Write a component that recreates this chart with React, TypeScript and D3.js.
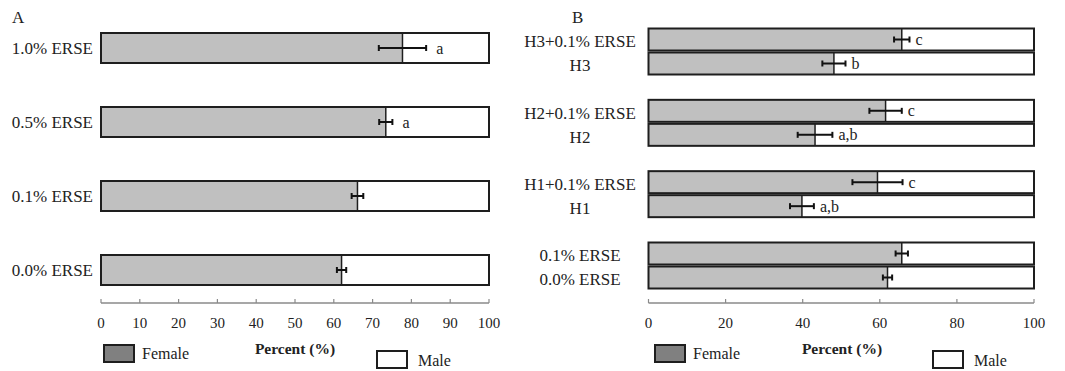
import React from 'react';
import * as d3 from 'd3';

// Panel A: concentrations of ERSE alone
const catsA = ['1.0% ERSE', '0.5% ERSE', '0.1% ERSE', '0.0% ERSE'];
const femaleA = [77.7, 73.4, 66.1, 62.0];
const errA = [6.1, 1.7, 1.5, 1.2];
const lettersA = ['a', 'a', '', ''];

// Panel B: pairs of bars
const groupsB = ['H3', 'H2', 'H1', 'C'];
const catsB = ['H3+0.1% ERSE', 'H3', 'H2+0.1% ERSE', 'H2', 'H1+0.1% ERSE', 'H1', '0.1% ERSE', '0.0% ERSE'];
const femaleB = [65.7, 48.1, 61.5, 43.2, 59.4, 39.8, 65.7, 62.0];
const errB = [2.0, 3.0, 4.2, 4.5, 6.5, 3.1, 1.6, 1.2];
const lettersB = ['c', 'b', 'c', 'a,b', 'c', 'a,b', '', ''];

const ticksA = [0, 10, 20, 30, 40, 50, 60, 70, 80, 90, 100];
const ticksB = [0, 20, 40, 60, 80, 100];

const FONT = '"Liberation Serif", "Times New Roman", serif';
const FEMALE_FILL = '#c0c0c0';
const LEGEND_FILL = '#808080';
const STROKE = '#1e1e1e';

const axisY = 303;

function Axis({ x, ticks }: { x: d3.ScaleLinear<number, number>; ticks: number[] }) {
  const [r0, r1] = x.range();
  return (
    <g>
      <line x1={r0} x2={r1} y1={axisY} y2={axisY} stroke="#8a8a8a" strokeWidth={1.5} />
      {ticks.map((t) => (
        <g key={t}>
          <line x1={x(t)} x2={x(t)} y1={axisY} y2={axisY - 4} stroke="#8a8a8a" strokeWidth={1.2} />
          <text x={x(t)} y={328} textAnchor="middle" fontSize={15} fill="#222">{t}</text>
        </g>
      ))}
    </g>
  );
}

function Bar({ x, y, h, v, e, letter, gap }: any) {
  const x0 = x(0), x1 = x(100), xv = x(v);
  const cy = y + h / 2;
  return (
    <g>
      <rect x={x0} y={y} width={xv - x0} height={h} fill={FEMALE_FILL} />
      <rect x={xv} y={y} width={x1 - xv} height={h} fill="#fff" />
      <rect x={x0} y={y} width={x1 - x0} height={h} fill="none" stroke={STROKE} strokeWidth={2} />
      <line x1={xv} x2={xv} y1={y} y2={y + h} stroke={STROKE} strokeWidth={1.5} />
      <line x1={x(v - e)} x2={x(v + e)} y1={cy} y2={cy} stroke="#111" strokeWidth={2} />
      <line x1={x(v - e)} x2={x(v - e)} y1={cy - 3} y2={cy + 3} stroke="#111" strokeWidth={2} />
      <line x1={x(v + e)} x2={x(v + e)} y1={cy - 3} y2={cy + 3} stroke="#111" strokeWidth={2} />
      {letter && (
        <text x={x(v + e) + gap} y={cy} dy="0.35em" fontSize={16} fill="#222">{letter}</text>
      )}
    </g>
  );
}

function Legend({ boxF, boxM, center }: any) {
  return (
    <g fontSize={16} fill="#222">
      <rect x={boxF} y={345} width={30} height={17} fill={LEGEND_FILL} stroke={STROKE} strokeWidth={2} />
      <text x={boxF + 38} y={359}>Female</text>
      <text x={center} y={354} textAnchor="middle" fontWeight="bold" fontSize={15.5}>Percent (%)</text>
      <rect x={boxM} y={351} width={30} height={17} fill="#fff" stroke={STROKE} strokeWidth={2} />
      <text x={boxM + 41} y={366}>Male</text>
    </g>
  );
}

export default function App() {
  const xA = d3.scaleLinear().domain([0, 100]).range([101, 489]);
  const yA = d3.scalePoint<string>().domain(catsA).range([48, 270]);
  const hA = 30;

  const xB = d3.scaleLinear().domain([0, 100]).range([648.5, 1034]);
  const yB = d3.scalePoint<string>().domain(groupsB).range([51.5, 265.5]);
  const hB = 22;
  const barTopB = (i: number) => {
    const c = yB(groupsB[Math.floor(i / 2)]) as number;
    return i % 2 === 0 ? c - hB - 1 : c + 1;
  };

  return (
    <svg width={1065} height={371} style={{ position: 'absolute', left: 0, top: 0, background: '#fff' }} fontFamily={FONT}>
      <rect width={1065} height={371} fill="#fff" />
      {/* Panel A */}
      <text x={12} y={23} fontSize={17} fill="#222">A</text>
      {catsA.map((c, i) => {
        const cy = yA(c) as number;
        return (
          <g key={c}>
            <text x={93} y={cy} dy="0.35em" textAnchor="end" fontSize={17} fill="#222">{c}</text>
            <Bar x={xA} y={cy - hA / 2} h={hA} v={femaleA[i]} e={errA[i]} letter={lettersA[i]} gap={10} />
          </g>
        );
      })}
      <Axis x={xA} ticks={ticksA} />
      <Legend boxF={104} boxM={377} center={295} />

      {/* Panel B */}
      <text x={572} y={23} fontSize={17} fill="#222">B</text>
      {catsB.map((c, i) => {
        const y = barTopB(i);
        return (
          <g key={c}>
            <text x={580} y={y + hB / 2 + 2} dy="0.35em" textAnchor="middle" fontSize={17} fill="#222">{c}</text>
            <Bar x={xB} y={y} h={hB} v={femaleB[i]} e={errB[i]} letter={lettersB[i]} gap={6} />
          </g>
        );
      })}
      <Axis x={xB} ticks={ticksB} />
      <Legend boxF={655} boxM={933} center={842} />
    </svg>
  );
}
